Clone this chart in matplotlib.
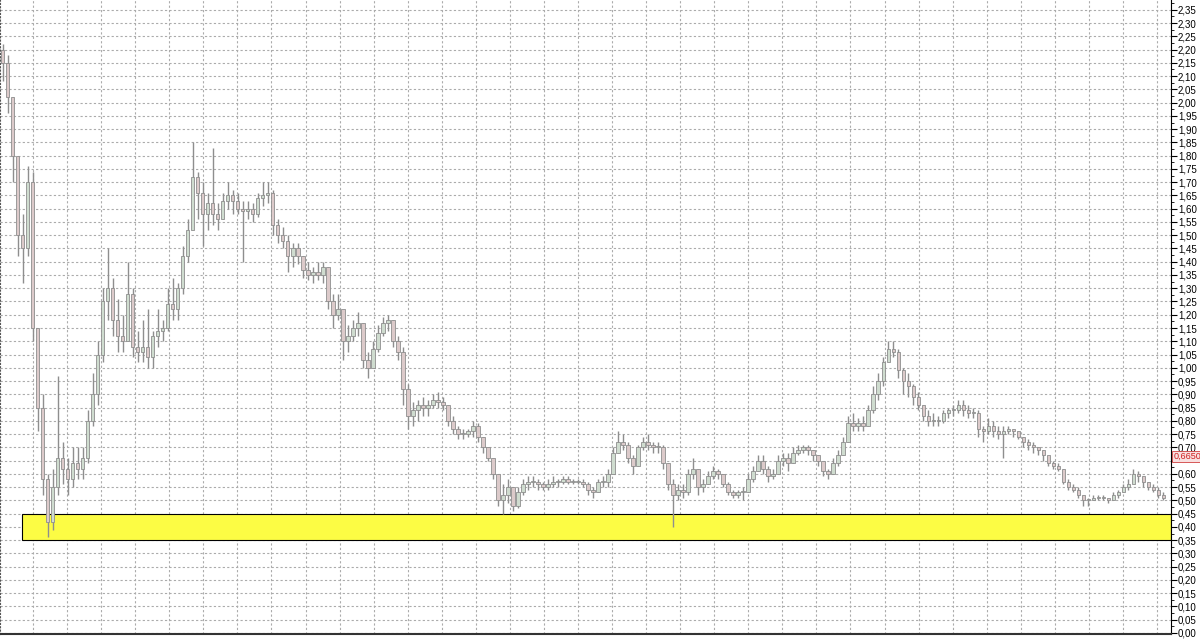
import numpy as np
import matplotlib
matplotlib.use("Agg")
import matplotlib.pyplot as plt
from matplotlib.patches import Rectangle
from matplotlib.ticker import MultipleLocator, FuncFormatter

# price bars (one bar per ~5 px)
highs = [2.22, 2.18, 2.02, 1.78, 1.58, 1.76, 1.74, 1.15, 0.90, 0.60,
         0.62, 0.97, 0.72, 0.66, 0.70, 0.70, 0.70, 0.84, 0.98, 1.10,
         1.30, 1.45, 1.34, 1.26, 1.20, 1.40, 1.30, 1.14, 1.18, 1.22,
         1.14, 1.22, 1.18, 1.30, 1.34, 1.32, 1.46, 1.56, 1.85, 1.74,
         1.70, 1.66, 1.83, 1.62, 1.66, 1.70, 1.67, 1.66, 1.63, 1.63,
         1.62, 1.66, 1.70, 1.70, 1.67, 1.56, 1.53, 1.50, 1.47, 1.47,
         1.42, 1.40, 1.38, 1.40, 1.40, 1.38, 1.28, 1.28, 1.20, 1.16,
         1.18, 1.21, 1.17, 1.06, 1.10, 1.16, 1.19, 1.20, 1.18, 1.12,
         1.08, 0.94, 0.87, 0.88, 0.89, 0.88, 0.90, 0.91, 0.89, 0.86,
         0.82, 0.78, 0.77, 0.77, 0.80, 0.79, 0.74, 0.70, 0.66, 0.60,
         0.56, 0.58, 0.55, 0.55, 0.58, 0.59, 0.59, 0.58, 0.57, 0.58,
         0.59, 0.58, 0.59, 0.59, 0.58, 0.58, 0.58, 0.57, 0.55, 0.58,
         0.59, 0.62, 0.70, 0.76, 0.75, 0.72, 0.67, 0.71, 0.74, 0.75,
         0.72, 0.72, 0.71, 0.64, 0.58, 0.56, 0.56, 0.62, 0.66, 0.62,
         0.58, 0.61, 0.63, 0.62, 0.60, 0.57, 0.54, 0.54, 0.55, 0.60,
         0.63, 0.67, 0.67, 0.63, 0.62, 0.67, 0.68, 0.68, 0.70, 0.71,
         0.71, 0.71, 0.69, 0.67, 0.64, 0.62, 0.66, 0.69, 0.74, 0.82,
         0.83, 0.81, 0.82, 0.86, 0.93, 0.98, 1.04, 1.10, 1.10, 1.07,
         1.00, 0.98, 0.94, 0.91, 0.86, 0.84, 0.83, 0.82, 0.84, 0.85,
         0.86, 0.88, 0.88, 0.86, 0.85, 0.84, 0.78, 0.81, 0.80, 0.78,
         0.78, 0.78, 0.77, 0.76, 0.74, 0.73, 0.72, 0.70, 0.69, 0.66,
         0.65, 0.64, 0.62, 0.58, 0.56, 0.55, 0.52, 0.51, 0.52, 0.52,
         0.52, 0.51, 0.53, 0.54, 0.56, 0.58, 0.62, 0.61, 0.59, 0.57,
         0.56, 0.55, 0.53]
lows = [2.08, 1.96, 1.70, 1.42, 1.32, 1.42, 1.10, 0.76, 0.52, 0.36,
        0.39, 0.52, 0.56, 0.52, 0.55, 0.58, 0.58, 0.64, 0.78, 0.86,
        1.02, 1.18, 1.12, 1.06, 1.06, 1.10, 1.04, 1.02, 1.02, 1.00,
        1.00, 1.08, 1.10, 1.14, 1.18, 1.18, 1.28, 1.40, 1.58, 1.56,
        1.46, 1.52, 1.54, 1.52, 1.56, 1.60, 1.58, 1.58, 1.40, 1.56,
        1.55, 1.57, 1.61, 1.62, 1.50, 1.47, 1.45, 1.36, 1.38, 1.39,
        1.34, 1.33, 1.32, 1.33, 1.32, 1.22, 1.15, 1.18, 1.03, 1.06,
        1.10, 1.12, 1.00, 0.96, 1.00, 1.06, 1.12, 1.14, 1.08, 1.03,
        0.86, 0.77, 0.78, 0.80, 0.82, 0.82, 0.85, 0.85, 0.84, 0.78,
        0.75, 0.73, 0.73, 0.74, 0.74, 0.72, 0.68, 0.65, 0.58, 0.48,
        0.45, 0.49, 0.46, 0.47, 0.52, 0.54, 0.55, 0.54, 0.54, 0.54,
        0.55, 0.55, 0.56, 0.56, 0.56, 0.56, 0.55, 0.52, 0.51, 0.53,
        0.55, 0.55, 0.60, 0.68, 0.69, 0.64, 0.60, 0.63, 0.69, 0.69,
        0.68, 0.68, 0.62, 0.54, 0.40, 0.50, 0.51, 0.52, 0.58, 0.52,
        0.53, 0.56, 0.58, 0.58, 0.55, 0.52, 0.51, 0.51, 0.50, 0.53,
        0.57, 0.61, 0.60, 0.57, 0.58, 0.60, 0.63, 0.61, 0.64, 0.67,
        0.68, 0.67, 0.65, 0.63, 0.59, 0.58, 0.60, 0.63, 0.67, 0.72,
        0.76, 0.76, 0.76, 0.78, 0.83, 0.88, 0.93, 1.03, 1.04, 0.96,
        0.90, 0.89, 0.86, 0.84, 0.80, 0.78, 0.78, 0.78, 0.79, 0.81,
        0.82, 0.83, 0.82, 0.81, 0.81, 0.74, 0.72, 0.75, 0.74, 0.73,
        0.66, 0.75, 0.74, 0.73, 0.70, 0.69, 0.68, 0.67, 0.65, 0.63,
        0.62, 0.61, 0.56, 0.54, 0.53, 0.51, 0.48, 0.48, 0.50, 0.50,
        0.50, 0.49, 0.50, 0.51, 0.53, 0.54, 0.57, 0.57, 0.55, 0.54,
        0.53, 0.51, 0.50]
closes = [2.15, 2.02, 1.80, 1.50, 1.45, 1.70, 1.15, 0.85, 0.58, 0.42,
          0.55, 0.66, 0.62, 0.58, 0.64, 0.62, 0.66, 0.80, 0.90, 1.05,
          1.25, 1.30, 1.18, 1.12, 1.10, 1.28, 1.08, 1.06, 1.08, 1.04,
          1.12, 1.14, 1.15, 1.24, 1.22, 1.30, 1.42, 1.52, 1.72, 1.66,
          1.58, 1.62, 1.58, 1.56, 1.63, 1.65, 1.63, 1.60, 1.59, 1.60,
          1.58, 1.64, 1.65, 1.66, 1.54, 1.50, 1.48, 1.42, 1.45, 1.42,
          1.37, 1.35, 1.36, 1.35, 1.38, 1.25, 1.20, 1.22, 1.10, 1.12,
          1.15, 1.17, 1.03, 1.00, 1.07, 1.13, 1.17, 1.18, 1.10, 1.06,
          0.92, 0.82, 0.84, 0.86, 0.85, 0.86, 0.88, 0.87, 0.86, 0.80,
          0.77, 0.75, 0.75, 0.76, 0.78, 0.74, 0.70, 0.66, 0.60, 0.50,
          0.52, 0.55, 0.48, 0.53, 0.56, 0.57, 0.57, 0.56, 0.55, 0.56,
          0.57, 0.57, 0.58, 0.57, 0.57, 0.57, 0.56, 0.54, 0.53, 0.57,
          0.57, 0.60, 0.68, 0.72, 0.71, 0.66, 0.63, 0.70, 0.72, 0.71,
          0.70, 0.70, 0.64, 0.56, 0.52, 0.54, 0.53, 0.60, 0.62, 0.55,
          0.56, 0.59, 0.61, 0.60, 0.56, 0.53, 0.52, 0.53, 0.53, 0.58,
          0.61, 0.65, 0.62, 0.59, 0.60, 0.65, 0.66, 0.64, 0.68, 0.69,
          0.70, 0.69, 0.67, 0.65, 0.61, 0.60, 0.64, 0.67, 0.72, 0.79,
          0.78, 0.79, 0.78, 0.84, 0.90, 0.95, 1.02, 1.07, 1.06, 0.99,
          0.95, 0.93, 0.89, 0.86, 0.82, 0.80, 0.80, 0.80, 0.83, 0.84,
          0.84, 0.86, 0.84, 0.83, 0.83, 0.77, 0.76, 0.78, 0.76, 0.75,
          0.76, 0.77, 0.76, 0.74, 0.72, 0.71, 0.70, 0.69, 0.67, 0.64,
          0.63, 0.62, 0.57, 0.55, 0.54, 0.52, 0.50, 0.50, 0.51, 0.51,
          0.51, 0.50, 0.52, 0.53, 0.55, 0.56, 0.60, 0.59, 0.57, 0.55,
          0.54, 0.52, 0.51]
first_open = 2.20
opens = [first_open] + closes[:-1]

last_price = 0.665
zone_low, zone_high = 0.35, 0.45

fig = plt.figure(figsize=(12, 6.4), dpi=100)
ax = fig.add_axes([0, 6 / 640, 1171 / 1200, 634 / 640])

n = len(closes)
x = np.arange(n) + 0.5
o = np.array(opens)
c = np.array(closes)
up = c >= o

ax.vlines(x, lows, highs, color="#8e8e8e", lw=1.0, zorder=3)
body_lo = np.minimum(o, c)
body_h = np.maximum(np.abs(c - o), 0.004)
ax.bar(x[up], body_h[up], bottom=body_lo[up], width=0.7,
       color="#cfdccf", edgecolor="#8e8e8e", lw=0.6, zorder=4)
ax.bar(x[~up], body_h[~up], bottom=body_lo[~up], width=0.7,
       color="#dccaca", edgecolor="#8e8e8e", lw=0.6, zorder=4)

ax.set_xlim(0, 234)
ax.set_ylim(-0.004, 2.387)

# yellow support zone
ax.add_patch(Rectangle((4.4, zone_low), 234 - 4.4, zone_high - zone_low,
                       facecolor="#fcfc44", edgecolor="black", lw=0.8, zorder=2))

# grid
ax.set_xticks(6.6 + 6.806 * np.arange(34))
ax.yaxis.set_major_locator(MultipleLocator(0.05))
ax.yaxis.set_minor_locator(MultipleLocator(0.025))
ax.grid(True, color="#ababab", linestyle=(0, (2, 2)), lw=0.8, zorder=0)
ax.set_axisbelow(True)


def price_fmt(v, pos):
    # the last-price box sits over the 0,65 label
    if abs(v - 0.65) < 1e-6:
        return ""
    return f"{v:.2f}".replace(".", ",")


ax.tick_params(axis="x", length=0, labelbottom=False)
ax.yaxis.tick_right()
ax.tick_params(axis="y", which="major", length=4, width=0.8, pad=1,
               labelsize=7, colors="black")
ax.tick_params(axis="y", which="minor", length=2, width=0.6)
ax.yaxis.set_major_formatter(FuncFormatter(price_fmt))
for lbl in ax.get_yticklabels():
    lbl.set_family("Liberation Sans")

ax.spines["top"].set_visible(False)
ax.spines["left"].set_linestyle((0, (1, 2)))
ax.spines["left"].set_color("#555555")
ax.spines["right"].set_color("black")
ax.spines["bottom"].set_color("#333333")
ax.spines["bottom"].set_linewidth(1.5)

ax.text(1.002, last_price, f"{last_price:.4f}".replace(".", ","),
        transform=ax.get_yaxis_transform(), fontsize=6.5, color="#d02020",
        family="Liberation Sans", va="center", ha="left", clip_on=False, zorder=10,
        bbox=dict(boxstyle="square,pad=0.15", facecolor="#f8e0e0",
                  edgecolor="#d04040", lw=0.6))

fig.savefig("out.png", dpi=100)
